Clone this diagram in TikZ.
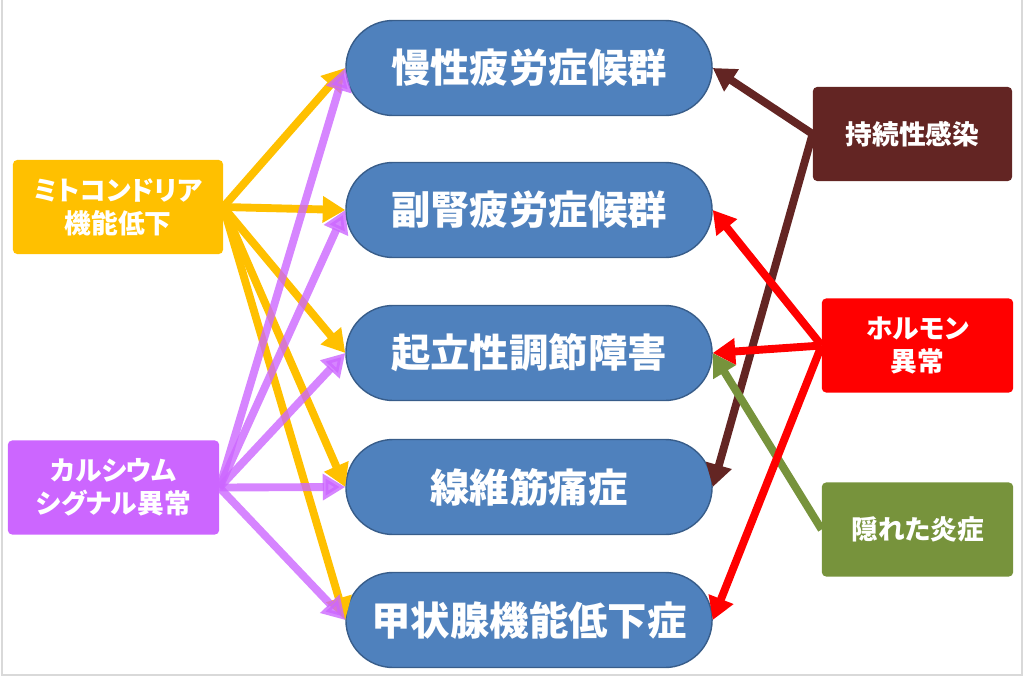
\documentclass[tikz,border=0pt]{standalone}
\usepackage{fontspec}
\setmainfont{Noto Sans CJK JP}[RawFeature={+palt}]
\usetikzlibrary{arrows.meta}

\definecolor{pillblue}{HTML}{4F81BD}
\definecolor{pillline}{HTML}{385D8A}
\definecolor{mito}{HTML}{FFC000}
\definecolor{calc}{HTML}{CC66FF}
\definecolor{infect}{HTML}{632523}
\definecolor{hormone}{HTML}{FF0000}
\definecolor{inflam}{HTML}{77933C}
\definecolor{framegray}{HTML}{D9D9D9}

\tikzset{
  pill/.style={draw=pillline, fill=pillblue, line width=1pt, rounded corners=1.18cm,
    minimum width=9.15cm, minimum height=2.375cm, text=white,
    font=\bfseries\fontsize{28}{34}\selectfont},
  cause/.style={rounded corners=3pt, minimum height=2.35cm, text=white, align=center,
    font=\bfseries\fontsize{19}{23.5}\selectfont},
  arrowline/.style={line width=5.6pt, -{Triangle[length=16pt,width=18pt]}}
}

\begin{document}
\begin{tikzpicture}[x=0.025cm,y=-0.025cm]

      \useasboundingbox (0,0) rectangle (1024,677);
      \draw[framegray, line width=1pt] (2,0) -- (2,675) -- (1022,675) -- (1022,0);

      \begin{scope}[every node/.style={pill}]
        \node (1) at (529,68)  {慢性疲労症候群};
        \node (2) at (529,210) {副腎疲労症候群};
        \node (3) at (529,353) {起立性調節障害};
        \node (4) at (529,487) {線維筋痛症};
        \node (5) at (529,620) {甲状腺機能低下症};
      \end{scope}

      \begin{scope}[every node/.style={cause}]
        \node[fill=mito, minimum width=5.25cm]    (6)  at (118,207)   {ミトコンドリア\\機能低下};
        \node[fill=calc, minimum width=5.28cm]    (7)  at (113.5,487.5) {カルシウム\\シグナル異常};
        \node[fill=infect, minimum width=4.98cm]  (8)  at (912.5,134) {持続性感染};
        \node[fill=hormone, minimum width=4.78cm] (9)  at (917.5,345.5) {ホルモン\\異常};
        \node[fill=inflam, minimum width=4.78cm]  (10) at (917.5,529.5) {隠れた炎症};
      \end{scope}

      \begin{scope}[every edge/.style={draw, arrowline}]

        \begin{scope}[every edge/.append style={mito}]
          \path (6.east) edge (1.west);
          \path (6.east) edge (2.west);
          \path (6.east) edge (3.west);
          \path (6.east) edge (4.west);
          \path (6.east) edge (5.west);
        \end{scope}

        \begin{scope}[every edge/.append style={calc, opacity=0.8}]
          \path (7.east) edge (1.west);
          \path (7.east) edge (2.west);
          \path (7.east) edge (3.west);
          \path (7.east) edge (4.west);
          \path (7.east) edge (5.west);
        \end{scope}

        \path (8.west)  edge[infect] (1.east);
        \path (8.west)  edge[infect] (4.east);
        \path (10.west) edge[inflam] (3.east);
        \path (9.west)  edge[hormone] (2.east);
        \path (9.west)  edge[hormone] (3.east);
        \path (9.west)  edge[hormone] (5.east);
      \end{scope}

    \end{tikzpicture}
\end{document}
